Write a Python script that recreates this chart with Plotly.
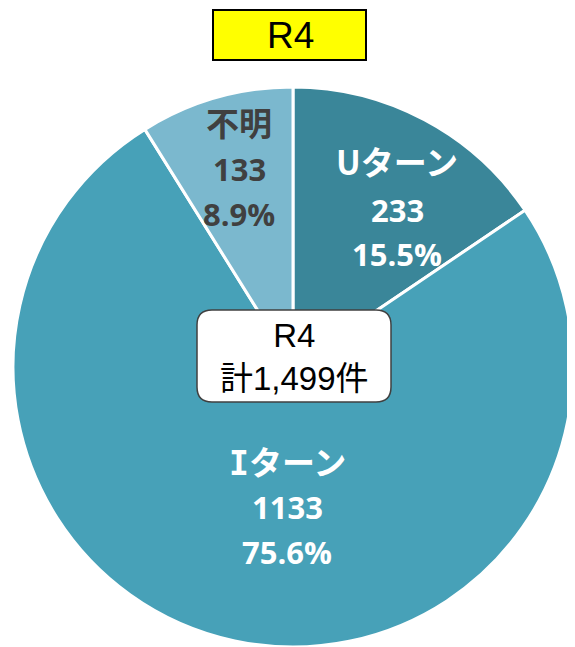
import plotly.graph_objects as go

# page has an 8px body margin; the figure is sized to fill the rest of the window
OFF = 8
W, H = 575 - OFF, 647 - OFF

labels = ["Uターン", "Iターン", "不明"]
values = [233, 1133, 133]
colors = ["#3A8699", "#47A1B8", "#7BB8CE"]
label_colors = ["#FFFFFF", "#FFFFFF", "#404040"]
title_text = "R4"
total_label = "計{:,}件"

total = sum(values)
pcts = [v / total * 100 for v in values]


def px(x):
    return (x - OFF) / W


def py(y):
    return 1 - (y - OFF) / H


def style_label(s):
    # the reference font draws a serifed "I"
    if s.startswith("I"):
        return '<span style="font-family:DejaVu Sans Mono">I</span>' + s[1:]
    return s


fig = go.Figure(
    go.Pie(
        labels=labels,
        values=values,
        sort=False,
        direction="clockwise",
        rotation=0,
        marker=dict(colors=colors, line=dict(color="white", width=3)),
        textinfo="none",
        hoverinfo="label+value+percent",
        showlegend=False,
        domain=dict(x=[px(13), px(573)], y=[0, py(87)]),
    )
)

# label positions (pixel centres of each label line)
label_pos = [(397, 161, 210, 254), (287, 461, 507, 552), (239, 122, 169, 214)]

annotations = []
for i, (lab, v, p) in enumerate(zip(labels, values, pcts)):
    x, y1, y2, y3 = label_pos[i]
    col = label_colors[i]
    fam = "Noto Sans CJK JP, Open Sans, sans-serif"
    annotations.append(dict(x=px(x), y=py(y1), text="<b>%s</b>" % style_label(lab), showarrow=False,
                            xref="paper", yref="paper", xanchor="center", yanchor="middle",
                            font=dict(family=fam, size=33, color=col)))
    annotations.append(dict(x=px(x), y=py(y2), text="<b>%d</b>" % v, showarrow=False,
                            xref="paper", yref="paper", xanchor="center", yanchor="middle",
                            font=dict(family="Open Sans, sans-serif", size=31, color=col)))
    annotations.append(dict(x=px(x), y=py(y3), text="<b>%.1f%%</b>" % p, showarrow=False,
                            xref="paper", yref="paper", xanchor="center", yanchor="middle",
                            font=dict(family="Open Sans, sans-serif", size=31, color=col)))

# centre box text
annotations.append(dict(x=px(294), y=py(357), text=title_text + "<br>" + total_label.format(total),
                        showarrow=False, xref="paper", yref="paper", xanchor="center", yanchor="middle",
                        font=dict(family="Liberation Sans, Noto Sans CJK JP, sans-serif", size=33, color="black")))

# title
annotations.append(dict(x=px(290), y=py(36), text=title_text, showarrow=False,
                        xref="paper", yref="paper", xanchor="center", yanchor="middle",
                        font=dict(family="Liberation Sans, sans-serif", size=37, color="black")))


def rounded_rect(x0, y0, x1, y1, r):
    rx, ry = r / W, r / H
    X0, X1 = px(x0), px(x1)
    Y0, Y1 = py(y0), py(y1)  # Y0 top (higher), Y1 bottom
    return (f"M {X0+rx},{Y0} L {X1-rx},{Y0} Q {X1},{Y0} {X1},{Y0-ry} "
            f"L {X1},{Y1+ry} Q {X1},{Y1} {X1-rx},{Y1} "
            f"L {X0+rx},{Y1} Q {X0},{Y1} {X0},{Y1+ry} "
            f"L {X0},{Y0-ry} Q {X0},{Y0} {X0+rx},{Y0} Z")


shapes = [
    dict(type="path", xref="paper", yref="paper", path=rounded_rect(197, 310, 391, 402, 15),
         fillcolor="white", line=dict(color="#404040", width=1.5), layer="above"),
    dict(type="rect", xref="paper", yref="paper", x0=px(213), x1=px(366), y0=py(60), y1=py(10),
         fillcolor="#FFFF00", line=dict(color="black", width=2), layer="above"),
]

fig.update_layout(
    width=W, height=H,
    margin=dict(l=0, r=0, t=0, b=0),
    paper_bgcolor="white",
    plot_bgcolor="white",
    annotations=annotations,
    shapes=shapes,
)

fig.write_html("out.html")
